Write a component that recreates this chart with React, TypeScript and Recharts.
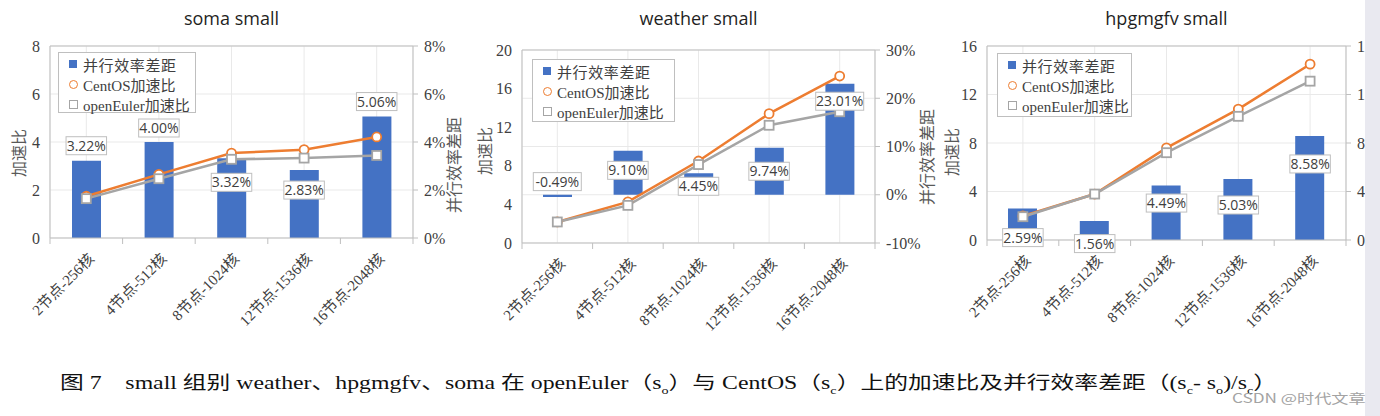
import { ComposedChart, Bar, Line, XAxis, YAxis, CartesianGrid, ReferenceLine, LabelList } from "recharts";

const categories = ["2节点-256核", "4节点-512核", "8节点-1024核", "12节点-1536核", "16节点-2048核"];

const somaGap = [3.22, 4.0, 3.32, 2.83, 5.06];
const somaCentOS = [1.74, 2.65, 3.54, 3.68, 4.21];
const somaOpenEuler = [1.64, 2.47, 3.28, 3.33, 3.44];

const weatherGap = [-0.49, 9.1, 4.45, 9.74, 23.01];
const weatherCentOS = [2.18, 4.26, 8.5, 13.4, 17.3];
const weatherOpenEuler = [2.18, 3.9, 8.13, 12.2, 13.6];

const hpgGap = [2.59, 1.56, 4.49, 5.03, 8.58];
const hpgCentOS = [1.98, 3.79, 7.6, 10.8, 14.5];
const hpgOpenEuler = [1.92, 3.79, 7.2, 10.2, 13.1];

const somaLeftTicks = [0, 2, 4, 6, 8];
const somaRightTicks = [0, 2, 4, 6, 8];
const weatherLeftTicks = [0, 4, 8, 12, 16, 20];
const weatherRightTicks = [-10, 0, 10, 20, 30];
const hpgLeftTicks = [0, 4, 8, 12, 16];
const hpgRightTicks = [0, 4, 8, 12, 16];

const legendNames = ["并行效率差距", "CentOS加速比", "openEuler加速比"];

const BLUE = "#4472C4";
const ORANGE = "#ED7D31";
const GRAY = "#A5A5A5";
const AXIS = "#bfbfbf";
const GRID = "#e9e9e9";
const TEXT = "#404040";
const SERIF = '"Liberation Serif", "Noto Sans CJK SC", serif';
const SANS = '"Open Sans", "Noto Sans CJK SC", sans-serif';
const CJK = '"Noto Sans CJK SC", sans-serif';

const rows = (gap: number[], centos: number[], oe: number[]) =>
  categories.map((name, i) => ({ name, gap: gap[i], centos: centos[i], oe: oe[i] }));

type Panel = {
  title: string;
  left: number;
  width: number;
  plotLeft: number;
  plotRight: number;
  plotTop: number;
  plotBottom: number;
  data: any[];
  leftTicks: number[];
  rightTicks: number[];
  gridAxis: "left" | "right";
  labelOffsets: number[];
  legend: { left: number; top: number; width: number; height: number };
  leftTitle: { x: number; y: number };
  rightTitle?: { x: number; y: number };
};

const panels: Panel[] = [
  {
    title: "soma small",
    left: 0,
    width: 466,
    plotLeft: 50,
    plotRight: 413,
    plotTop: 46,
    plotBottom: 238,
    data: rows(somaGap, somaCentOS, somaOpenEuler),
    leftTicks: somaLeftTicks,
    rightTicks: somaRightTicks,
    gridAxis: "left",
    labelOffsets: [-15, -14, 24, 20, -15],
    legend: { left: 58, top: 52, width: 138, height: 61 },
    leftTitle: { x: 19, y: 153 },
    rightTitle: { x: 454, y: 165 },
  },
  {
    title: "weather small",
    left: 466,
    width: 474,
    plotLeft: 522,
    plotRight: 875,
    plotTop: 50,
    plotBottom: 243,
    data: rows(weatherGap, weatherCentOS, weatherOpenEuler),
    leftTicks: weatherLeftTicks,
    rightTicks: weatherRightTicks,
    gridAxis: "right",
    labelOffsets: [-15.5, 19.5, 13, 23.5, 17.5],
    legend: { left: 532, top: 59, width: 143, height: 63 },
    leftTitle: { x: 485, y: 151 },
    rightTitle: { x: 927, y: 157 },
  },
  {
    title: "hpgmgfv small",
    left: 940,
    width: 425,
    plotLeft: 987,
    plotRight: 1346,
    plotTop: 46,
    plotBottom: 240,
    data: rows(hpgGap, hpgCentOS, hpgOpenEuler),
    leftTicks: hpgLeftTicks,
    rightTicks: hpgRightTicks,
    gridAxis: "left",
    labelOffsets: [29, 22.5, 17.5, 26, 28],
    legend: { left: 997, top: 53, width: 135, height: 64 },
    leftTitle: { x: 952, y: 152 },
  },
];

const H = 340;
const XH = 96;

const XTick = (props: any) => {
  const { x, y, payload, index, bw } = props;
  return (
    <g>
      <line x1={x - bw / 2} x2={x - bw / 2} y1={y} y2={y + 6} stroke={AXIS} />
      {index === categories.length - 1 && <line x1={x + bw / 2} x2={x + bw / 2} y1={y} y2={y + 6} stroke={AXIS} />}
      <text
        transform={`translate(${x + 5},${y + 18}) rotate(-45)`}
        textAnchor="end"
        dy="0.35em"
        fontFamily={SERIF}
        fontSize={15}
        fill={TEXT}
      >
        {payload.value}
      </text>
    </g>
  );
};

const CircleDot = (props: any) => {
  const { cx, cy, index } = props;
  return <circle key={`c${index}`} cx={cx} cy={cy} r={4.5} fill="#fff" stroke={ORANGE} strokeWidth={1.8} />;
};

const SquareDot = (props: any) => {
  const { cx, cy, index } = props;
  return <rect key={`s${index}`} x={cx - 4.5} y={cy - 4.5} width={9} height={9} fill="#fff" stroke={GRAY} strokeWidth={1.8} />;
};

const ValueBox = (props: any, offsets: number[]) => {
  const { x, y, value, index } = props;
  const text = `${Number(value).toFixed(2)}%`;
  const w = text.length * 7.5 + 3;
  const cy = y + offsets[index];
  return (
    <g key={`l${index}`}>
      <rect x={x - w / 2} y={cy - 9} width={w} height={18} fill="#fff" stroke={AXIS} />
      <text x={x} y={cy} dy="0.36em" textAnchor="middle" fontFamily={SANS} fontSize={14} fill={TEXT}>
        {text}
      </text>
    </g>
  );
};

const Legend = ({ box }: { box: Panel["legend"] }) => (
  <div
    style={{
      position: "absolute",
      left: box.left,
      top: box.top,
      width: box.width,
      height: box.height,
      boxSizing: "border-box",
      border: `1px solid ${AXIS}`,
      background: "#fff",
      fontFamily: SERIF,
      fontSize: 15,
      color: TEXT,
      paddingTop: 1,
      whiteSpace: "nowrap",
    }}
  >
    {legendNames.map((n, i) => (
      <div key={n} style={{ height: 20, display: "flex", alignItems: "center", paddingLeft: 9 }}>
        <span style={{ width: 10, display: "inline-flex", justifyContent: "center", marginRight: 5 }}>
          {i === 0 && <span style={{ width: 8, height: 8, background: BLUE }} />}
          {i === 1 && (
            <span style={{ width: 7, height: 7, borderRadius: "50%", border: `1.8px solid ${ORANGE}` }} />
          )}
          {i === 2 && <span style={{ width: 7, height: 7, border: `1.5px solid ${GRAY}` }} />}
        </span>
        <span style={{ letterSpacing: i === 0 ? 0.6 : 0 }}>{n}</span>
      </div>
    ))}
  </div>
);

const ChartPanel = ({ p }: { p: Panel }) => {
  const leftW = p.plotLeft - p.left;
  const rightW = p.left + p.width - p.plotRight;
  const bw = (p.plotRight - p.plotLeft) / categories.length;
  const lMin = p.leftTicks[0];
  const lMax = p.leftTicks[p.leftTicks.length - 1];
  const rMin = p.rightTicks[0];
  const rMax = p.rightTicks[p.rightTicks.length - 1];
  const center = (p.plotLeft + p.plotRight) / 2 - p.left;
  return (
    <div style={{ position: "absolute", left: p.left, top: 0, width: p.width, height: H, overflow: "hidden" }}>
      <div
        style={{
          position: "absolute",
          left: center - 150,
          width: 300,
          top: 6,
          lineHeight: "24px",
          textAlign: "center",
          fontFamily: SANS,
          fontSize: 18,
          color: "#1f1f1f",
        }}
      >
        {p.title}
      </div>
      <ComposedChart
        width={p.width}
        height={H}
        data={p.data}
        margin={{ top: p.plotTop, right: 0, left: 0, bottom: H - p.plotBottom - XH }}
      >
        <CartesianGrid yAxisId={p.gridAxis} stroke={GRID} />
        <XAxis
          dataKey="name"
          interval={0}
          height={XH}
          tickLine={false}
          tickSize={0}
          tickMargin={0}
          axisLine={{ stroke: AXIS }}
          tick={(t: any) => <XTick {...t} bw={bw} />}
        />
        <YAxis
          yAxisId="left"
          width={leftW}
          domain={[lMin, lMax]}
          ticks={p.leftTicks}
          allowDataOverflow
          tickLine={false}
          tickSize={0}
          tickMargin={10}
          axisLine={{ stroke: AXIS }}
          tick={{ fontFamily: SERIF, fontSize: 16, fill: TEXT }}
          label={{
            content: () => (
              <text
                transform={`translate(${p.leftTitle.x - p.left},${p.leftTitle.y}) rotate(-90)`}
                textAnchor="middle"
                dy="0.35em"
                fontFamily={CJK}
                fontSize={16}
                fill="#595959"
              >
                加速比
              </text>
            ),
          }}
        />
        <YAxis
          yAxisId="right"
          orientation="right"
          width={rightW}
          domain={[rMin, rMax]}
          ticks={p.rightTicks}
          allowDataOverflow
          tickSize={5}
          tickMargin={6}
          tickLine={{ stroke: AXIS }}
          axisLine={{ stroke: AXIS }}
          tickFormatter={(v: number) => `${v}%`}
          tick={{ fontFamily: SERIF, fontSize: 16, fill: TEXT }}
          label={
            p.rightTitle
              ? {
                  content: () => (
                    <text
                      transform={`translate(${p.rightTitle!.x - p.left},${p.rightTitle!.y}) rotate(-90)`}
                      textAnchor="middle"
                      dy="0.35em"
                      fontFamily={CJK}
                      fontSize={16}
                      fill="#595959"
                    >
                      并行效率差距
                    </text>
                  ),
                }
              : undefined
          }
        />
        <ReferenceLine yAxisId="left" y={lMax} stroke={AXIS} />
        <Bar yAxisId="right" dataKey="gap" fill={BLUE} barSize={29} isAnimationActive={false} />
        <Line
          yAxisId="left"
          dataKey="centos"
          stroke={ORANGE}
          strokeWidth={2.5}
          dot={CircleDot}
          activeDot={false}
          isAnimationActive={false}
        />
        <Line
          yAxisId="left"
          dataKey="oe"
          stroke={GRAY}
          strokeWidth={2.5}
          dot={SquareDot}
          activeDot={false}
          isAnimationActive={false}
        />
        <Line yAxisId="right" dataKey="gap" stroke="none" dot={false} activeDot={false} isAnimationActive={false}>
          <LabelList dataKey="gap" content={(lp: any) => ValueBox(lp, p.labelOffsets)} />
        </Line>
      </ComposedChart>
    </div>
  );
};

export default function App() {
  return (
    <div style={{ position: "absolute", left: 0, top: 0, width: 1380, height: 416, background: "#fff", overflow: "hidden" }}>
      {panels.map((p) => (
        <ChartPanel key={p.title} p={p} />
      ))}
      {panels.map((p) => (
        <Legend key={p.title + "-lg"} box={p.legend} />
      ))}
      <div
        style={{
          position: "absolute",
          left: 60,
          top: 372,
          whiteSpace: "pre",
          fontFamily: SERIF,
          fontSize: 18.5,
          lineHeight: "22px",
          color: "#111",
          transform: "scaleX(1.285)",
          transformOrigin: "0 0",
        }}
      >
        {"图 7    small 组别 weather、hpgmgfv、soma 在 openEuler（s"}
        <sub style={{ fontSize: 11 }}>o</sub>
        {"）与 CentOS（s"}
        <sub style={{ fontSize: 11 }}>c</sub>
        {"）上的加速比及并行效率差距（(s"}
        <sub style={{ fontSize: 11 }}>c</sub>
        {"- s"}
        <sub style={{ fontSize: 11 }}>o</sub>
        {")/s"}
        <sub style={{ fontSize: 11 }}>c</sub>
        {"）"}
      </div>
      <div style={{ position: "absolute", left: 1365, top: 0, width: 15, height: 416, background: "#e9e9f0" }} />
      <div
        style={{
          position: "absolute",
          left: 1232,
          top: 389,
          fontFamily: CJK,
          fontSize: 13,
          lineHeight: "18px",
          color: "#a3a3a3",
          whiteSpace: "nowrap",
          transform: "scaleX(1.32)",
          transformOrigin: "0 0",
        }}
      >
        CSDN @时代文章
      </div>
    </div>
  );
}
